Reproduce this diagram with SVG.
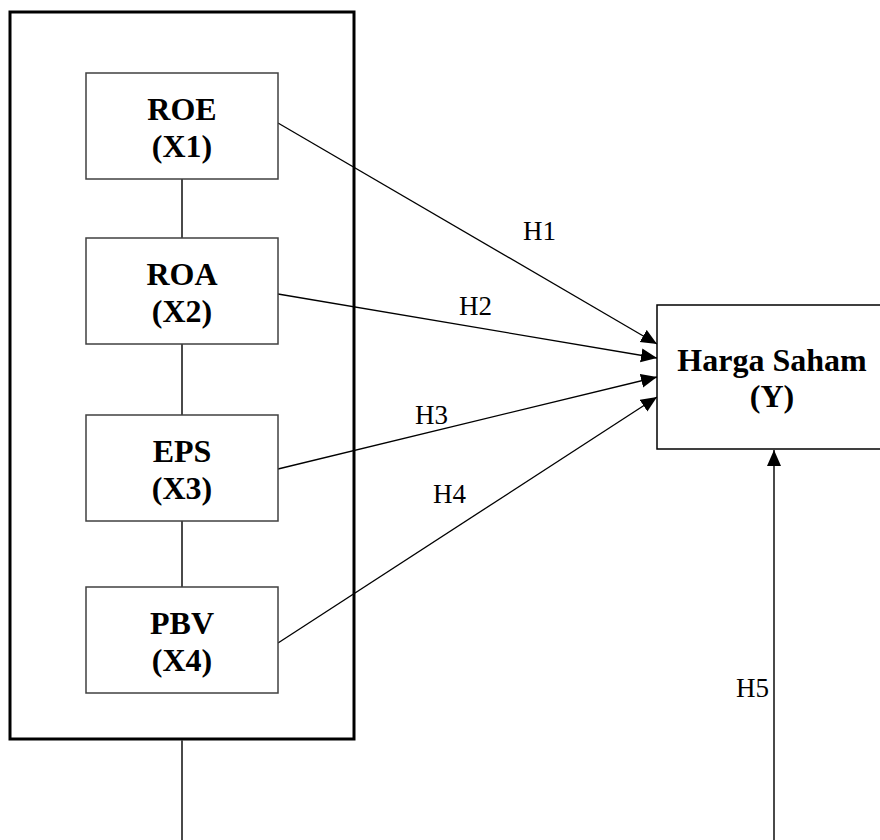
<svg xmlns="http://www.w3.org/2000/svg" width="880" height="840" viewBox="0 0 880 840">
  <style>
    .box { fill: #ffffff; stroke: #404040; stroke-width: 1.5; }
    .ybox { fill: #ffffff; stroke: #000000; stroke-width: 1.5; }
    .outer { fill: none; stroke: #000000; stroke-width: 3; }
    .link { stroke: #4a4a4a; stroke-width: 2; fill: none; }
    .arrow { stroke: #000000; stroke-width: 1.3; fill: none; marker-end: url(#ah); }
    .arrow5 { stroke: #4a4a4a; stroke-width: 2; fill: none; marker-end: url(#ah); }
    .node { font-family: "Liberation Serif", "Times New Roman", serif; font-weight: bold; font-size: 32px; fill: #000; text-anchor: middle; }
    .lab { font-family: "Liberation Serif", "Times New Roman", serif; font-size: 27px; fill: #000; }
  </style>
  <defs>
    <marker id="ah" markerUnits="userSpaceOnUse" markerWidth="17" markerHeight="15" refX="16" refY="7" orient="auto">
      <path d="M0,0 L16,7 L0,14 Z" fill="#000"/>
    </marker>
  </defs>

  <g id="outer-group">
    <rect class="outer" x="10" y="12" width="344" height="727"/>
  </g>

  <g id="connectors">
    <line class="link" x1="182" y1="179" x2="182" y2="238"/>
    <line class="link" x1="182" y1="344" x2="182" y2="415"/>
    <line class="link" x1="182" y1="521" x2="182" y2="587"/>
    <line class="link" x1="182" y1="740" x2="182" y2="840"/>
    <line class="arrow" x1="278" y1="123" x2="657" y2="344"/>
    <line class="arrow" x1="278" y1="294" x2="657" y2="358"/>
    <line class="arrow" x1="278" y1="469" x2="657" y2="377"/>
    <line class="arrow" x1="278" y1="643" x2="657" y2="397"/>
    <line class="arrow5" x1="774" y1="840" x2="774" y2="450"/>
    <text class="lab" x="523" y="240">H1</text>
    <text class="lab" x="459" y="315">H2</text>
    <text class="lab" x="415" y="424">H3</text>
    <text class="lab" x="433" y="503">H4</text>
    <text class="lab" x="736" y="697">H5</text>
  </g>

  <g id="roe">
    <rect class="box" x="86" y="73" width="192" height="106"/>
    <text class="node" x="182" y="120">ROE</text>
    <text class="node" x="182" y="157">(X1)</text>
  </g>
  <g id="roa">
    <rect class="box" x="86" y="238" width="192" height="106"/>
    <text class="node" x="182" y="285">ROA</text>
    <text class="node" x="182" y="322">(X2)</text>
  </g>
  <g id="eps">
    <rect class="box" x="86" y="415" width="192" height="106"/>
    <text class="node" x="182" y="462">EPS</text>
    <text class="node" x="182" y="499">(X3)</text>
  </g>
  <g id="pbv">
    <rect class="box" x="86" y="587" width="192" height="106"/>
    <text class="node" x="182" y="634">PBV</text>
    <text class="node" x="182" y="671">(X4)</text>
  </g>
  <g id="harga-saham">
    <rect class="ybox" x="657" y="305" width="240" height="144"/>
    <text class="node" x="772" y="371">Harga Saham</text>
    <text class="node" x="772" y="407">(Y)</text>
  </g>
</svg>
